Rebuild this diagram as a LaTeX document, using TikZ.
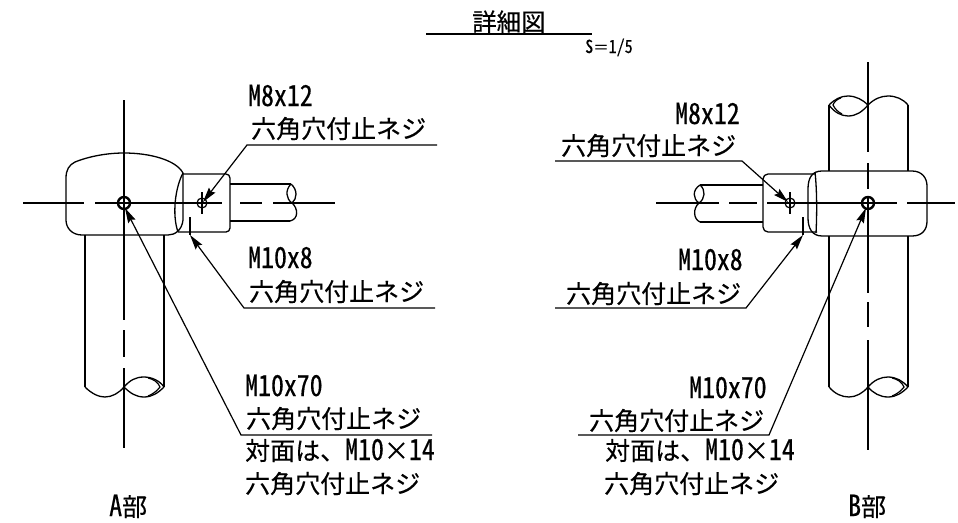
\documentclass[tikz,border=0pt]{standalone}
\usepackage{fontspec}
\setmainfont[FakeBold=0.4]{Noto Sans CJK JP}
\newfontfamily\hw[CharacterWidth=Half,Scale=1.16,FakeStretch=0.89,FakeBold=0.4]{Noto Sans CJK JP}
\usetikzlibrary{arrows.meta}
\tikzset{outline/.style={draw,line width=1.3pt,line join=round}}
\tikzset{center/.style={draw,line width=1.2pt}}
\tikzset{leader/.style={draw,line width=1.2pt,-{Stealth[length=15pt,width=8pt,inset=2pt]}}}
\tikzset{label/.style={anchor=base west,inner sep=0pt,font={\fontsize{25pt}{25pt}\selectfont}}}

\begin{document}
\begin{tikzpicture}[x=1pt,y=-1pt]
    \useasboundingbox (0,0) rectangle (958,522);
    % title
    \node[anchor=base west,inner sep=0pt,font={\fontsize{24.5pt}{25pt}\selectfont}] (title) at (472,31) {詳細図};
    \node[anchor=base west,inner sep=0pt,font={\fontsize{15.5pt}{15pt}\selectfont}] (scale) at (585,53) {{\hw S}＝{\hw 1/5}};
    \coordinate (ta) at (426,34);
    \coordinate (tb) at (592,34);
    \path[center] (ta) -- (tb);
    % labels
    \foreach \i\x\y\t in {a/248/106/{\hw M8x12}, b/251/138/六角穴付止ネジ,
        c/248/268/{\hw M10x8}, d/249/301/六角穴付止ネジ,
        e/245/396/{\hw M10x70}, f/246/428/六角穴付止ネジ,
        g/245/460/{対面は、{\hw M10}×{\hw 14}}, h/245/493/六角穴付止ネジ,
        i/109/516/{{\hw A}部},
        j/675/124/{\hw M8x12}, k/561/155/六角穴付止ネジ,
        l/678/270/{\hw M10x8}, m/566/303/六角穴付止ネジ,
        n/689/398/{\hw M10x70}, o/589/430/六角穴付止ネジ,
        p/605/460/{対面は、{\hw M10}×{\hw 14}}, q/604/493/六角穴付止ネジ,
        r/848/516/{{\hw B}部}}{
        \node[label] (t\i) at (\x,\y) {\t};
    }
    % leaders: far end of the underline, knee, tip
    \foreach \i\ex\ey\kx\ky\px\py in {1/437/145/247/145/203/202, 2/435/308/244/308/190/235,
        3/432/435/241/435/125/208, 4/555/161/742/161/788/202,
        5/555/308/746/308/803/235, 6/578/435/769/435/866/208}{
        \coordinate (e\i) at (\ex,\ey);
        \coordinate (k\i) at (\kx,\ky);
        \coordinate (p\i) at (\px,\py);
        \path[leader] (e\i) -- (k\i) -- (p\i);
    }
    % centre lines, part A
    \foreach \a\b in {23/84, 95/222, 240/262, 273/335}{
        \path[center] (\a,203) -- (\b,203);
    }
    \foreach \a\b in {100/320, 330/357, 368/448}{
        \path[center] (124,\a) -- (124,\b);
    }
    % part A
    \path[outline] (66,220) -- (66,178) .. controls (66,170) and (69,165) .. (75,162)
        .. controls (90,156) and (108,153) .. (124,153)
        .. controls (150,153) and (176,160) .. (183,173) -- (183,220)
        .. controls (182,230) and (175,235) .. (168,235) -- (82,235)
        .. controls (72,235) and (66,228) .. (66,220) -- cycle;
    \path[outline] (183,173) .. controls (175,188) and (172,215) .. (178,232);
    \path[outline,rounded corners=4pt] (183,174) -- (230,174) -- (230,232) -- (178,232);
    \path[outline] (230,184) -- (291,184);
    \path[outline] (230,221) -- (290,221);
    \path[outline] (291,184) .. controls (285,190) and (286,199) .. (292,203)
        .. controls (297,199) and (298,190) .. (291,184);
    \path[outline] (292,203) .. controls (298,208) and (299,219) .. (290,221);
    \path[outline] (85,235) -- (85,387);
    \path[outline] (164,235) -- (164,387);
    \path[outline] (85,387) .. controls (92,394) and (99,397) .. (105,397)
        .. controls (112,397) and (119,393) .. (124,387);
    \path[outline] (124,387) .. controls (130,380) and (136,377) .. (144,377)
        .. controls (152,377) and (160,381) .. (164,387)
        .. controls (158,393) and (152,397) .. (144,397)
        .. controls (136,397) and (130,393) .. (124,387);
    \path[center] (148,378) .. controls (153,379) and (158,382) .. (160,387)
        .. controls (157,391) and (153,394) .. (148,396);
    \path[draw,line width=2.4pt] (124,203) circle (6);
    \path[center] (202,203) circle (5);
    \path[center] (202,192) -- (202,214);
    \path[outline] (190,217) -- (190,235);
    % centre lines, part B
    \foreach \a\b in {656/719, 729/757, 767/897, 907/955}{
        \path[center] (\a,203) -- (\b,203);
    }
    \foreach \a\b in {62/152, 163/189, 198/293, 302/327, 340/450}{
        \path[center] (868,\a) -- (868,\b);
    }
    % part B
    \path[outline] (822,171) -- (912,171) .. controls (922,171) and (927,178) .. (927,186)
        -- (927,221) .. controls (927,230) and (922,236) .. (912,236) -- (822,236)
        .. controls (812,236) and (808,228) .. (808,218) -- (808,189)
        .. controls (808,178) and (812,171) .. (822,171) -- cycle;
    \path[outline] (815,172) .. controls (817,190) and (817,215) .. (816,233);
    \path[outline,rounded corners=5pt] (815,174) -- (763,174) -- (763,232) -- (817,232);
    \path[outline] (763,185) -- (700,185);
    \path[outline] (763,222) -- (700,222);
    \path[outline] (700,185) .. controls (692,190) and (693,199) .. (699,203)
        .. controls (705,199) and (706,190) .. (700,185);
    \path[outline] (699,203) .. controls (693,208) and (693,219) .. (700,222);
    \path[outline] (829,105) -- (829,171);
    \path[outline] (908,105) -- (908,171);
    \path[outline] (829,236) -- (829,387);
    \path[outline] (908,236) -- (908,387);
    \path[outline] (829,105) .. controls (835,99) and (841,96) .. (848,96)
        .. controls (856,96) and (863,100) .. (868,105)
        .. controls (862,112) and (856,116) .. (848,116)
        .. controls (841,116) and (834,112) .. (829,105);
    \path[outline] (868,105) .. controls (874,99) and (881,96) .. (888,96)
        .. controls (896,96) and (903,99) .. (908,105);
    \path[center] (841,98) .. controls (837,99) and (834,102) .. (833,105)
        .. controls (835,109) and (838,112) .. (842,114);
    \path[outline] (829,387) .. controls (835,394) and (842,397) .. (849,397)
        .. controls (856,397) and (863,393) .. (868,387);
    \path[outline] (868,387) .. controls (874,380) and (881,377) .. (888,377)
        .. controls (896,377) and (903,381) .. (908,387)
        .. controls (902,393) and (896,397) .. (888,397)
        .. controls (880,397) and (873,393) .. (868,387);
    \path[center] (892,378) .. controls (897,379) and (902,382) .. (904,387)
        .. controls (901,391) and (897,394) .. (892,396);
    \path[draw,line width=2.4pt] (868,203) circle (6);
    \path[center] (790,203) circle (5);
    \path[center] (790,192) -- (790,214);
    \path[outline] (803,217) -- (803,235);
\end{tikzpicture}
\end{document}
